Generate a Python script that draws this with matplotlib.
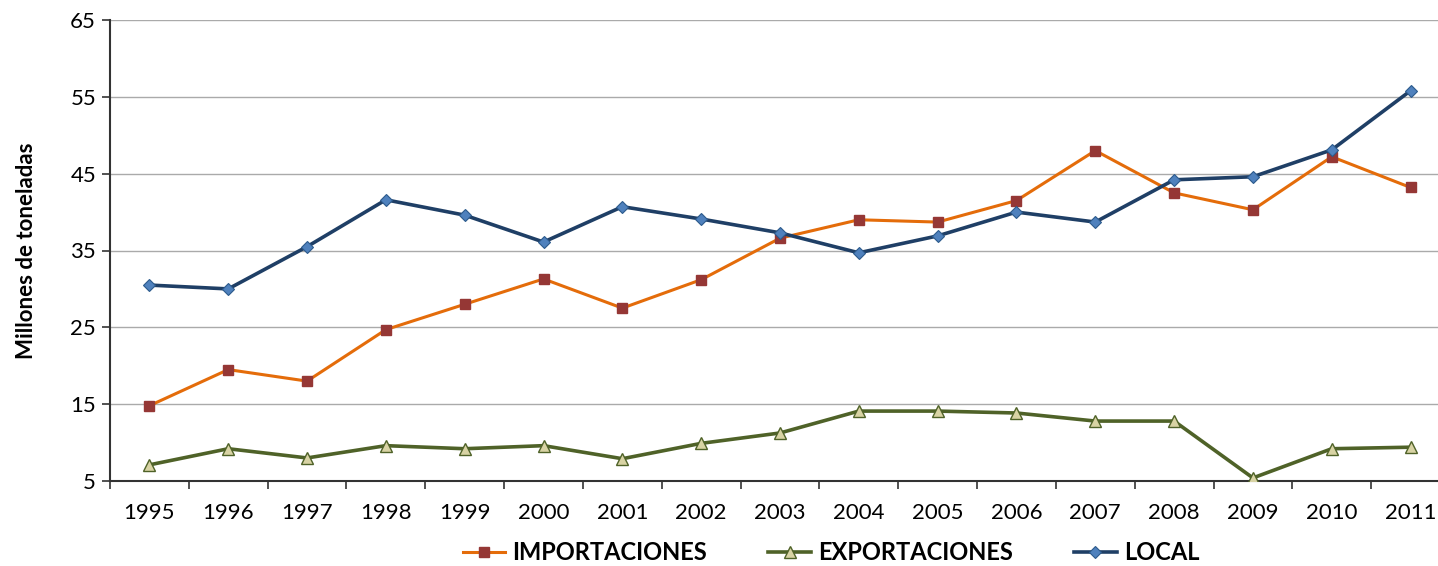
import numpy as np
import matplotlib.pyplot as plt

# valores (millones de toneladas)
years = [str(y) for y in range(1995, 2012)]
importaciones = [14.8, 19.5, 18.0, 24.7, 28.0, 31.3, 27.5, 31.2, 36.6, 39.0,
                 38.7, 41.5, 48.0, 42.5, 40.3, 47.2, 43.2]
exportaciones = [7.1, 9.2, 8.0, 9.6, 9.2, 9.6, 7.9, 9.9, 11.25, 14.1,
                 14.1, 13.85, 12.8, 12.8, 5.4, 9.2, 9.4]
local = [30.5, 30.0, 35.5, 41.6, 39.6, 36.1, 40.7, 39.1, 37.3, 34.7,
         36.9, 40.0, 38.7, 44.2, 44.6, 48.1, 55.8]
yticks = [5, 15, 25, 35, 45, 55, 65]

plt.rcParams['font.family'] = ['Lato', 'DejaVu Sans']

fig = plt.figure(figsize=(14.38, 5.66), dpi=100)
ax = fig.add_axes([110/1438, 1 - 481/566, 1340/1438, 461/566])

x = np.arange(len(years))
ax.plot(x, importaciones, color='#E46C0A', lw=2.2, marker='s', ms=7,
        mfc='#953735', mec='#953735', label='IMPORTACIONES', zorder=3)
ax.plot(x, exportaciones, color='#4F6228', lw=2.6, marker='^', ms=8,
        mfc='#D8D3A4', mec='#4F6228', mew=1, label='EXPORTACIONES', zorder=3)
ax.plot(x, local, color='#1F3F66', lw=2.6, marker='D', ms=6,
        mfc='#4F81BD', mec='#2C5A8C', mew=0.8, label='LOCAL', zorder=4)

ax.set_xlim(-0.5, len(years) - 0.5)
ax.set_ylim(5, 65)
ax.set_yticks(yticks)
ax.set_yticklabels([str(v) for v in yticks], fontsize=16)
ax.set_xticks(x)
ax.set_xticklabels(years, fontsize=16)
ax.set_xticks(np.arange(-0.5, len(years), 1), minor=True)
ax.tick_params(axis='x', which='major', length=0, pad=16)
ax.tick_params(axis='x', which='minor', length=6, width=1.2, color='#333333', direction='out')
ax.tick_params(axis='y', length=6, width=1.2, color='#333333', pad=4)

ax.grid(axis='y', color='#AAAAAA', lw=1)
ax.set_axisbelow(True)
for s in ['top', 'right']:
    ax.spines[s].set_visible(False)
ax.spines['left'].set_color('#333333')
ax.spines['left'].set_linewidth(1.5)
ax.spines['bottom'].set_color('#333333')
ax.spines['bottom'].set_linewidth(1.5)

ax.set_ylabel('Millones de toneladas', fontsize=16, fontweight='bold', labelpad=24)

fig.legend(loc='center', bbox_to_anchor=(831/1438, 1 - 553/566), ncol=3, frameon=False,
           prop={'weight': 'bold', 'size': 17}, columnspacing=2.6,
           handlelength=1.8, handletextpad=0.3)

fig.savefig('out.png', dpi=100)
